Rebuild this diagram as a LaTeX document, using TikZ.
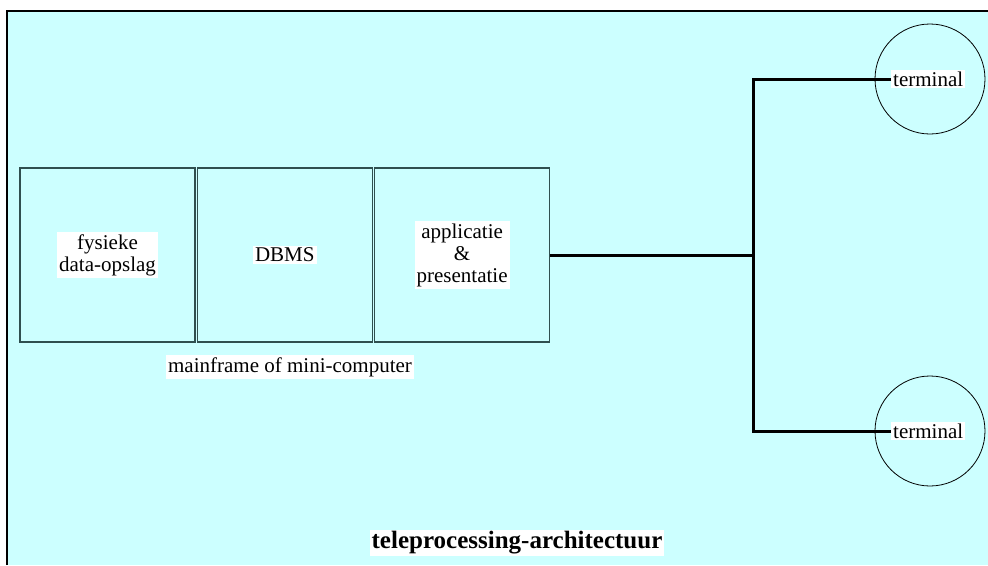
\documentclass[tikz,border=0pt]{standalone}
\usepackage{fontspec}
\setmainfont{Liberation Serif}
\usetikzlibrary{positioning}
\definecolor{screen}{HTML}{CCFFFF}
\definecolor{edge}{HTML}{2F4F4F}

\begin{document}
\begin{tikzpicture}[x=1pt, y=-1pt, node distance=1pt,
        box/.style={draw=edge, line width=1.3pt, minimum width=175pt, minimum height=174pt, inner sep=0pt},
        tag/.style={fill=white, inner sep=2pt, align=center, font=\fontsize{21}{22}\selectfont},
        bus/.style={line width=3pt, line join=miter},
        ring/.style={draw, circle, minimum size=110pt, inner sep=0pt, line width=0.8pt}]
        \useasboundingbox (0,0) rectangle (988,565);
        \fill[screen] (7,11) rectangle (988,565);
        \draw[line width=2pt] (7,565) -- (7,11) -- (988,11);
        % host machine
        \node[box] (store) at (107.5,255) {};
        \node[box] (dbms) [right=of store] {};
        \node[box] (app) [right=of dbms] {};
        \node[tag] at (store) {fysieke\\data-opslag};
        \node[tag] at (dbms) {DBMS};
        \node[tag] at (app) {applicatie\\\&\\presentatie};
        \node[tag] (host) at (290,367) {mainframe of mini-computer};
        % terminals
        \node[ring] (ringA) at (930,79) {};
        \node[ring] (ringB) at (930,431) {};
        \node[tag, anchor=west] (termA) at (891,79) {terminal};
        \node[tag, anchor=west] (termB) at (891,431) {terminal};
        \coordinate (hub) at (753,255);
        \coordinate (hubA) at (753,79);
        \coordinate (hubB) at (753,431);
        \draw[bus] (app.east) -- (hub);
        \draw[bus] (termA.west) -- (hubA) -- (hubB) -- (termB.west);
        \node[tag, font=\fontsize{25}{26}\selectfont\bfseries] (title) at (517,543) {teleprocessing-architectuur};
    \end{tikzpicture}
\end{document}
